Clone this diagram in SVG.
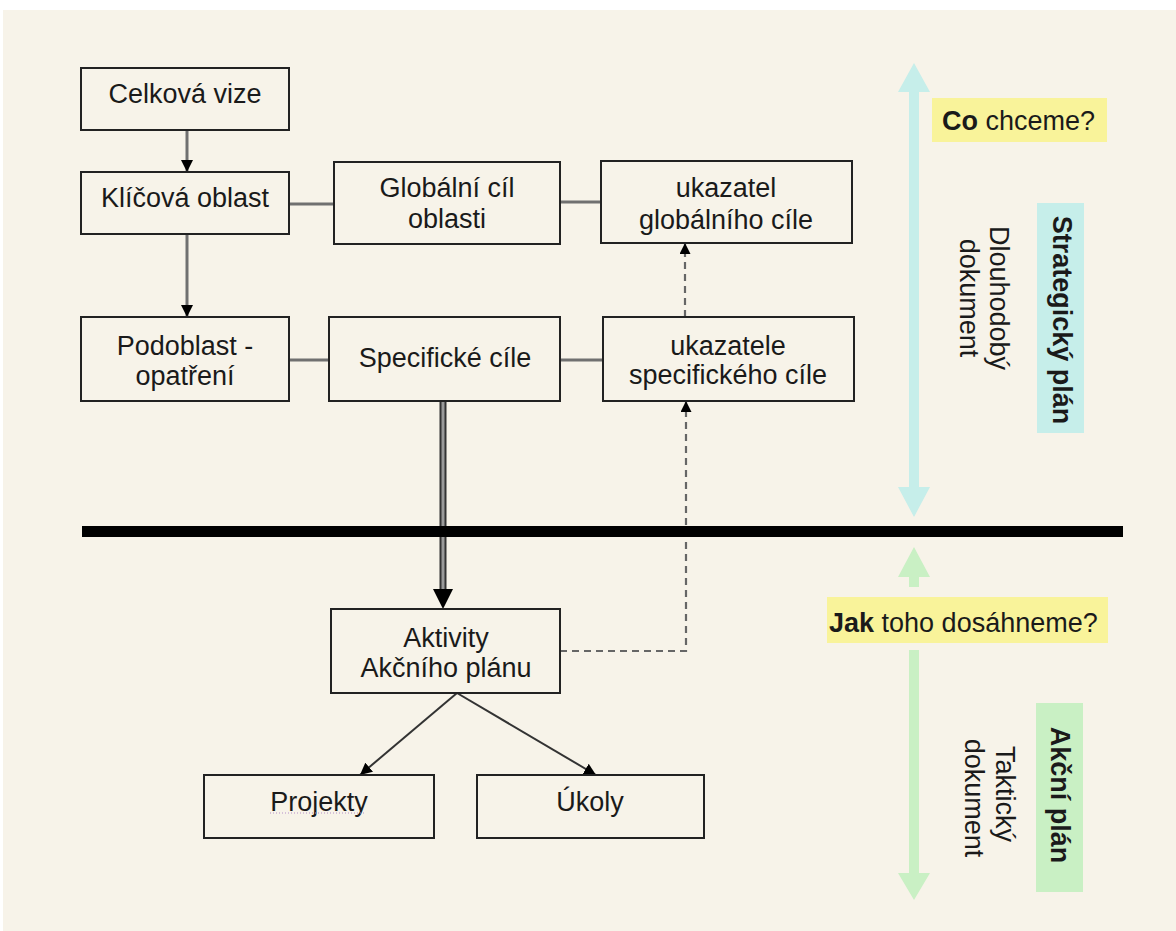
<svg xmlns="http://www.w3.org/2000/svg" width="1176" height="931" viewBox="0 0 1176 931">
<defs>
<style>
.box{fill:#F7F3E9;stroke:#222;stroke-width:2}
.t{font-family:"Liberation Sans",Arial,sans-serif;font-size:27px;fill:#1a1a1a;text-anchor:middle}
.b{font-weight:bold}
.lab{font-family:"Liberation Sans",Arial,sans-serif;font-size:27px;fill:#1a1a1a}
.conn{stroke:#707070;stroke-width:3;fill:none}
.dash{stroke:#666;stroke-width:2.2;fill:none;stroke-dasharray:7 5}
.thin{stroke:#333;stroke-width:2;fill:none}
</style>
<marker id="ah" viewBox="0 0 12 12" refX="12" refY="6" markerWidth="12" markerHeight="12" markerUnits="userSpaceOnUse" orient="auto">
<path d="M0,0 L12,6 L0,12 Z" fill="#000"/>
</marker>
<marker id="ahs" viewBox="0 0 12 12" refX="12" refY="6" markerWidth="11" markerHeight="11" markerUnits="userSpaceOnUse" orient="auto">
<path d="M0,0 L12,6 L0,12 Z" fill="#000"/>
</marker>
</defs>
<rect x="0" y="0" width="1176" height="931" fill="#FFFFFF"/>
<rect x="3" y="10" width="1173" height="921" fill="#F7F3E9"/>

<g id="connectors">
<line class="conn" x1="187" y1="130" x2="187" y2="172" marker-end="url(#ah)"/>
<line class="conn" x1="187" y1="234" x2="187" y2="317" marker-end="url(#ah)"/>
<line class="conn" x1="289" y1="204" x2="334" y2="204"/>
<line class="conn" x1="560" y1="202" x2="601" y2="202"/>
<line class="conn" x1="289" y1="360" x2="329" y2="360"/>
<line class="conn" x1="560" y1="360" x2="603" y2="360"/>
<line class="dash" x1="685" y1="317" x2="685" y2="243" marker-end="url(#ahs)"/>
<polyline class="dash" points="560,651 686,651 686,401" marker-end="url(#ahs)"/>
<line x1="443" y1="401" x2="443" y2="592" stroke="#333" stroke-width="7"/>
<line x1="443" y1="401" x2="443" y2="592" stroke="#9a9a9a" stroke-width="3"/>
<path d="M433,589 L453,589 L443,609 Z" fill="#000"/>
<line class="thin" x1="457" y1="693" x2="360" y2="775" marker-end="url(#ah)"/>
<line class="thin" x1="457" y1="693" x2="596" y2="775" marker-end="url(#ah)"/>
</g>

<rect id="divider" x="82" y="526" width="1041" height="11" fill="#000"/>

<g id="celkova-vize"><rect class="box" x="81" y="68" width="208" height="62"/><text class="t" x="185" y="103">Celková vize</text></g>
<g id="klicova-oblast"><rect class="box" x="81" y="172" width="208" height="62"/><text class="t" x="185" y="207">Klíčová oblast</text></g>
<g id="globalni-cil"><rect class="box" x="334" y="162" width="226" height="82"/><text class="t" x="447" y="197">Globální cíl</text><text class="t" x="447" y="228">oblasti</text></g>
<g id="ukazatel-globalniho"><rect class="box" x="601" y="161" width="251" height="82"/><text class="t" x="726" y="197">ukazatel</text><text class="t" x="726" y="229">globálního cíle</text></g>
<g id="podoblast"><rect class="box" x="81" y="317" width="208" height="84"/><text class="t" x="185" y="355">Podoblast -</text><text class="t" x="185" y="385">opatření</text></g>
<g id="specificke-cile"><rect class="box" x="329" y="317" width="231" height="84"/><text class="t" x="445" y="367">Specifické cíle</text></g>
<g id="ukazatele-specifickeho"><rect class="box" x="603" y="317" width="251" height="84"/><text class="t" x="728" y="355">ukazatele</text><text class="t" x="728" y="384">specifického cíle</text></g>
<g id="aktivity"><rect class="box" x="331" y="609" width="229" height="84"/><text class="t" x="446" y="647">Aktivity</text><text class="t" x="446" y="677">Akčního plánu</text></g>
<g id="projekty"><rect class="box" x="204" y="775" width="230" height="63"/><text class="t" x="319" y="811">Projekty</text><line x1="270" y1="813" x2="366" y2="813" stroke="#b58fc8" stroke-width="1" stroke-dasharray="1 2"/></g>
<g id="ukoly"><rect class="box" x="477" y="775" width="227" height="63"/><text class="t" x="590" y="811">Úkoly</text></g>

<g id="strategicky-side">
<path d="M914,63 L930,92 L919,92 L919,487 L930,487 L914,517 L898,487 L909,487 L909,92 L898,92 Z" fill="#C6EEEA"/>
<rect x="932" y="98" width="175" height="44" fill="#F9F39A"/>
<text class="lab" x="942" y="130"><tspan class="b">Co</tspan> chceme?</text>
<rect x="1037" y="203" width="47" height="230" fill="#C6EEEA"/>
<text class="t b" font-size="29" transform="translate(1053,320) rotate(90)">Strategický plán</text>
<text class="t" transform="translate(990,298) rotate(90)">Dlouhodobý</text>
<text class="t" transform="translate(960,298) rotate(90)">dokument</text>
</g>

<g id="akcni-side">
<path d="M914,547 L930,577 L919,577 L919,587 L909,587 L909,577 L898,577 Z" fill="#C9F0C4"/>
<rect x="827" y="597" width="281" height="46" fill="#F9F39A"/>
<text class="lab" x="829" y="632"><tspan class="b">Jak</tspan> toho dosáhneme?</text>
<path d="M909,650 L919,650 L919,873 L930,873 L914,900 L898,873 L909,873 Z" fill="#C9F0C4"/>
<rect x="1036" y="703" width="47" height="189" fill="#C9F0C4"/>
<text class="t b" font-size="29" transform="translate(1051,795) rotate(90)">Akční plán</text>
<text class="t" transform="translate(996,794) rotate(90)">Taktický</text>
<text class="t" transform="translate(965,798) rotate(90)">dokument</text>
</g>
</svg>
